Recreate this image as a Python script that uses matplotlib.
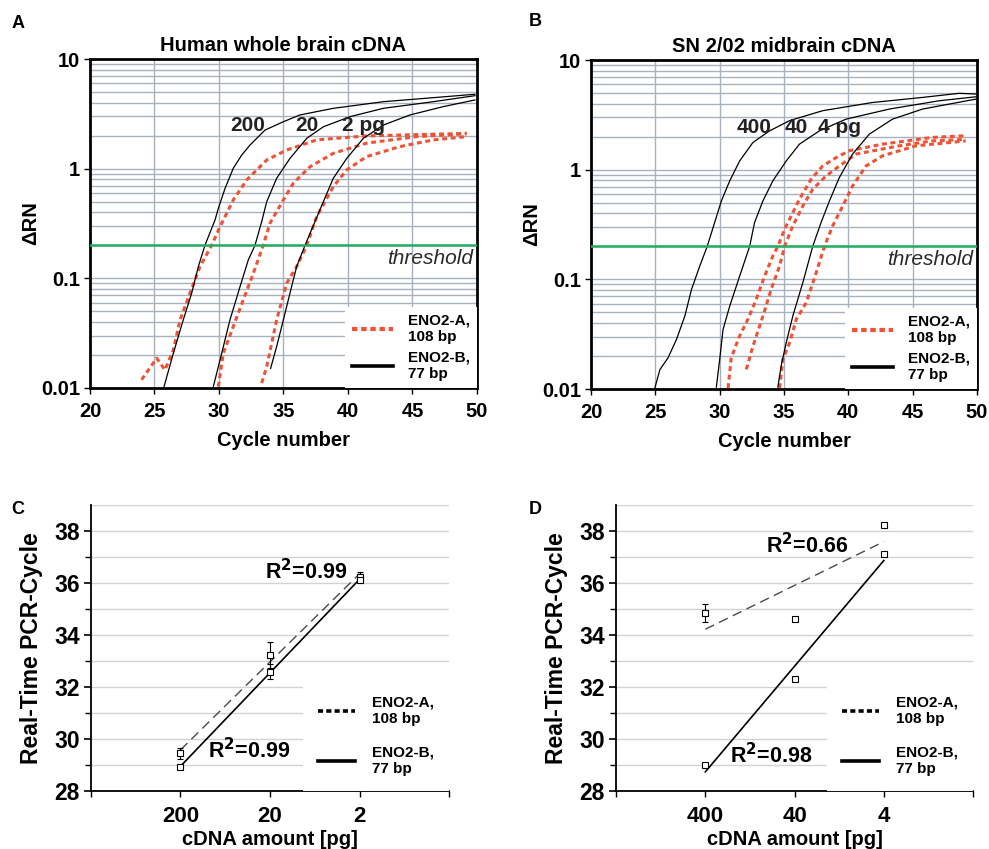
import numpy as np
import matplotlib
matplotlib.use('Agg')
import matplotlib.pyplot as plt
from matplotlib.lines import Line2D
from matplotlib.ticker import FixedLocator, NullFormatter, LogLocator, FuncFormatter

plt.rcParams['font.family'] = ['Liberation Sans', 'DejaVu Sans']
plt.rcParams['font.weight'] = 'bold'
plt.rcParams['axes.labelweight'] = 'bold'
plt.rcParams['axes.titleweight'] = 'bold'

# ---------------- Panel A: Human whole brain cDNA (amplification curves) ----------------
a_b200_x = [25.74, 26.46, 27.23, 27.88, 28.40, 28.91, 29.69, 29.95, 30.47, 31.11, 31.76, 32.40, 33.57, 34.99, 36.28, 38.86, 42.74, 46.61, 49.84]
a_b200_y = [0.0103, 0.0207, 0.0418, 0.0731, 0.128, 0.2, 0.340, 0.435, 0.662, 1.01, 1.33, 1.64, 2.25, 2.68, 3.09, 3.55, 4.08, 4.44, 4.77]
a_b20_x = [29.56, 30.08, 30.85, 31.63, 32.27, 32.79, 33.31, 33.70, 34.47, 35.50, 36.80, 38.09, 40.16, 42.74, 46.61, 49.84]
a_b20_y = [0.0103, 0.018, 0.0418, 0.084, 0.147, 0.2, 0.329, 0.5, 0.817, 1.24, 1.89, 2.41, 2.98, 3.55, 4.08, 4.63]
a_b2_x = [34.00, 34.47, 34.99, 35.50, 36.02, 36.67, 37.44, 38.09, 38.86, 39.90, 41.19, 42.74, 44.81, 47.39, 49.84]
a_b2_y = [0.0151, 0.0239, 0.0418, 0.0731, 0.128, 0.2, 0.329, 0.5, 0.817, 1.24, 1.89, 2.5, 3.09, 3.68, 4.23]
a_r200_x = [24.00, 25.17, 25.81, 26.46, 26.98, 27.75, 28.53, 29.43, 30.08, 31.11, 32.15, 33.70, 35.25, 37.57, 41.45, 49.20]
a_r200_y = [0.0119, 0.0187, 0.0146, 0.0222, 0.0418, 0.0731, 0.128, 0.2, 0.296, 0.519, 0.789, 1.2, 1.48, 1.83, 1.99, 2.10]
a_r20_x = [29.95, 30.33, 31.11, 31.88, 32.66, 33.43, 33.95, 34.99, 35.76, 37.05, 38.86, 41.45, 45.33, 49.20]
a_r20_y = [0.0103, 0.0207, 0.0364, 0.0636, 0.111, 0.2, 0.318, 0.519, 0.736, 1.04, 1.38, 1.71, 1.96, 2.08]
a_r2_x = [33.31, 33.70, 34.47, 35.25, 36.02, 36.80, 37.57, 38.86, 39.90, 41.45, 44.03, 46.61, 49.20]
a_r2_y = [0.0111, 0.0157, 0.0418, 0.0905, 0.128, 0.2, 0.365, 0.686, 0.973, 1.29, 1.59, 1.83, 1.96]
a_amount_labels = ['200', '20', '2 pg']
a_amount_label_x = [32.25, 36.8, 41.2]

# ---------------- Panel B: SN 2/02 midbrain cDNA ----------------
b_b400_x = [24.96, 25.35, 25.99, 26.64, 27.29, 27.81, 28.45, 29.03, 29.61, 30.13, 30.78, 31.55, 32.58, 33.88, 35.43, 38.00, 41.88, 45.76, 48.60, 49.90]
b_b400_y = [0.0102, 0.015, 0.0193, 0.0283, 0.0462, 0.081, 0.132, 0.2, 0.33, 0.519, 0.791, 1.2, 1.77, 2.26, 2.8, 3.45, 4.1, 4.56, 4.97, 4.9]
b_b40_x = [29.74, 30.00, 30.26, 30.78, 31.55, 32.33, 32.71, 33.36, 34.13, 35.17, 36.20, 37.75, 39.82, 43.18, 47.05, 49.90]
b_b40_y = [0.0104, 0.0186, 0.0349, 0.057, 0.107, 0.2, 0.33, 0.519, 0.791, 1.2, 1.71, 2.26, 2.89, 3.57, 4.25, 4.62]
b_b4_x = [34.52, 34.78, 35.17, 35.68, 36.46, 37.23, 37.88, 38.53, 39.30, 40.33, 41.63, 43.43, 45.76, 49.90]
b_b4_y = [0.0104, 0.0163, 0.0264, 0.0462, 0.0933, 0.2, 0.33, 0.519, 0.849, 1.39, 2.11, 2.89, 3.57, 4.4]
b_r400_x = [30.65, 30.90, 31.55, 32.19, 32.84, 33.49, 34.13, 34.52, 35.04, 35.68, 36.20, 37.10, 38.00, 39.05, 40.08, 42.66, 46.53, 49.12]
b_r400_y = [0.0102, 0.0193, 0.0305, 0.0432, 0.0657, 0.107, 0.163, 0.2, 0.286, 0.406, 0.538, 0.818, 1.08, 1.29, 1.49, 1.71, 1.97, 2.04]
b_r40_x = [32.07, 32.58, 33.36, 34.00, 34.65, 35.04, 35.68, 36.46, 37.23, 38.27, 39.30, 40.60, 43.95, 46.53, 49.12]
b_r40_y = [0.0151, 0.0245, 0.0462, 0.0811, 0.132, 0.2, 0.307, 0.467, 0.664, 0.877, 1.08, 1.39, 1.65, 1.83, 1.89]
b_r4_x = [34.65, 34.91, 35.43, 35.95, 36.72, 37.50, 38.14, 38.78, 39.56, 40.33, 41.37, 42.66, 45.25, 49.12]
b_r4_y = [0.0102, 0.0186, 0.0264, 0.0432, 0.0612, 0.115, 0.2, 0.307, 0.467, 0.711, 1.08, 1.34, 1.65, 1.83]
b_amount_labels = ['400', '40', '4 pg']
b_amount_label_x = [32.7, 35.95, 39.3]

threshold_value = 0.2
amp_yticks = [0.01, 0.1, 1, 10]
amp_xticks = [20, 25, 30, 35, 40, 45, 50]

# ---------------- Panels C / D: standard curves ----------------
c_labels = ['200', '20', '2']
c_eno2a = [29.45, 33.23, 36.22]
c_eno2a_err = [0.2, 0.5, 0.2]
c_eno2b = [28.93, 32.59, 36.12]
c_eno2b_err = [0.05, 0.3, 0.1]
c_r2 = ['R$^{\\mathbf{2}}$=0.99', 'R$^{\\mathbf{2}}$=0.99']

d_labels = ['400', '40', '4']
d_eno2a = [34.86, 34.63, 38.23]
d_eno2a_err = [0.35, 0.0, 0.0]
d_eno2b = [28.99, 32.29, 37.12]
d_eno2b_err = [0.0, 0.0, 0.0]
d_r2 = ['R$^{\\mathbf{2}}$=0.66', 'R$^{\\mathbf{2}}$=0.98']

legend_labels = ['ENO2-A,\n108 bp', 'ENO2-B,\n77 bp']

RED = '#ef5234'
GREEN = '#22ad62'
GRID = '#a8b2bf'

fig = plt.figure(figsize=(9.89, 8.49), dpi=100)
axA = fig.add_axes([0.0910, 0.5430, 0.3913, 0.3875])
axB = fig.add_axes([0.5976, 0.5418, 0.3903, 0.3875])
axC = fig.add_axes([0.0920, 0.0683, 0.3620, 0.3369])
axD = fig.add_axes([0.6229, 0.0683, 0.3610, 0.3369])


def amp_panel(ax, title, blacks, reds, amt_labels, amt_x):
    ax.set_yscale('log')
    ax.set_xlim(20, 50)
    ax.set_ylim(0.01, 10)
    ax.yaxis.set_major_locator(FixedLocator(amp_yticks))
    ax.yaxis.set_minor_locator(LogLocator(base=10, subs=np.arange(2, 10)))
    ax.yaxis.set_minor_formatter(NullFormatter())
    ax.yaxis.set_major_formatter(FuncFormatter(lambda v, p: '%g' % v))
    ax.set_xticks(amp_xticks)
    ax.grid(True, which='both', axis='y', color=GRID, lw=1.0, zorder=0)
    ax.grid(True, which='major', axis='x', color=GRID, lw=1.0, zorder=0)
    ax.set_axisbelow(True)
    ax.tick_params(which='minor', length=0)
    ax.tick_params(axis='y', which='major', length=4, width=1, labelsize=14.5, pad=3)
    ax.tick_params(axis='x', which='major', length=4, width=1, labelsize=14.5, pad=6)
    for s in ax.spines.values():
        s.set_linewidth(2.0)
        s.set_color('black')
    for x, y in reds:
        ax.plot(x, y, color=RED, lw=2.2, ls=(0, (1.6, 1.2)), zorder=3)
    for x, y in blacks:
        ax.plot(x, y, color='black', lw=0.9, zorder=4)
    ax.axhline(threshold_value, color=GREEN, lw=1.8, zorder=5)
    ax.text(49.7, 0.152, 'threshold', style='italic', weight='normal', ha='right', va='center',
            fontsize=15, color='#2a2a2a', zorder=6)
    for lab, x in zip(amt_labels, amt_x):
        ax.text(x, 2.45, lab, ha='center', va='center', fontsize=15, weight='bold', color='#222222', zorder=6)
    ax.set_title(title, fontsize=14.5, pad=6)
    ax.set_xlabel('Cycle number', fontsize=14.5, labelpad=7)
    ax.set_ylabel('\u0394RN', fontsize=14.5, labelpad=1)
    h1 = Line2D([], [], color=RED, lw=3, ls=(0, (1.3, 0.9)))
    h2 = Line2D([], [], color='black', lw=2.6)
    leg = ax.legend([h1, h2], legend_labels, loc='lower right', bbox_to_anchor=(1, 0), borderaxespad=0,
                    frameon=True, fancybox=False, edgecolor='none', facecolor='white', framealpha=1,
                    fontsize=11, handlelength=2.7, handletextpad=1.0, labelspacing=0.45, borderpad=0.45)
    leg.set_zorder(7)


amp_panel(axA, 'Human whole brain cDNA',
          [(a_b200_x, a_b200_y), (a_b20_x, a_b20_y), (a_b2_x, a_b2_y)],
          [(a_r200_x, a_r200_y), (a_r20_x, a_r20_y), (a_r2_x, a_r2_y)],
          a_amount_labels, a_amount_label_x)
amp_panel(axB, 'SN 2/02 midbrain cDNA',
          [(b_b400_x, b_b400_y), (b_b40_x, b_b40_y), (b_b4_x, b_b4_y)],
          [(b_r400_x, b_r400_y), (b_r40_x, b_r40_y), (b_r4_x, b_r4_y)],
          b_amount_labels, b_amount_label_x)


def cal_panel(ax, labels, a, aerr, b, berr, r2, r2a_pos, r2b_pos):
    pos = np.arange(1, len(labels) + 1)
    ax.set_xlim(0, 4)
    ax.set_ylim(28, 39)
    for yv in np.arange(29, 40):
        ax.axhline(yv, color='#d2d2d2', lw=1.0, zorder=0)
    ax.spines['top'].set_visible(False)
    ax.spines['right'].set_visible(False)
    for s in ['left', 'bottom']:
        ax.spines[s].set_linewidth(1.3)
    ax.set_yticks(np.arange(28, 39, 2))
    ax.set_yticks(np.arange(29, 39, 2), minor=True)
    ax.set_xticks(pos)
    ax.set_xticklabels(labels)
    ax.set_xticks([0, 4], minor=True)
    ax.tick_params(axis='y', which='major', length=5, width=1.2, labelsize=16.5, pad=3)
    ax.tick_params(axis='y', which='minor', length=4, width=1.0)
    ax.tick_params(axis='x', which='both', length=4, width=1.0, labelsize=16, pad=7)
    # linear fits (log-spaced amounts at equal spacing)
    fa = np.polyfit(pos, a, 1)
    fb = np.polyfit(pos, b, 1)
    xs = np.array([pos[0], pos[-1]])
    ax.plot(xs, np.polyval(fa, xs), color='#4a4a4a', lw=1.0, ls=(0, (7, 4)), zorder=3)
    ax.plot(xs, np.polyval(fb, xs), color='black', lw=1.2, zorder=3)
    ax.errorbar(pos, a, yerr=aerr, fmt='s', ms=4, mfc='white', mec='black', mew=0.8,
                ecolor='black', elinewidth=0.8, capsize=2.5, capthick=0.8, zorder=4)
    ax.errorbar(pos, b, yerr=berr, fmt='s', ms=4, mfc='white', mec='black', mew=0.8,
                ecolor='black', elinewidth=0.8, capsize=2.5, capthick=0.8, zorder=4)
    ax.text(r2a_pos[0], r2a_pos[1], r2[0], ha='right', va='center', fontsize=15.5, zorder=6)
    ax.text(r2b_pos[0], r2b_pos[1], r2[1], ha='left', va='center', fontsize=15.5, zorder=6)
    ax.set_xlabel('cDNA amount [pg]', fontsize=14.5, labelpad=2)
    ax.set_ylabel('Real-Time PCR-Cycle', fontsize=16.5, labelpad=8)
    h1 = Line2D([], [], color='black', lw=2.6, ls=(0, (1.4, 0.9)))
    h2 = Line2D([], [], color='black', lw=2.6)
    leg = ax.legend([h1, h2], legend_labels, loc='lower right', bbox_to_anchor=(1, 0), borderaxespad=0,
                    frameon=True, fancybox=False, edgecolor='none', facecolor='white', framealpha=1,
                    fontsize=11, handlelength=2.4, handletextpad=1.1, labelspacing=1.3, borderpad=1.0)
    leg.set_zorder(7)


cal_panel(axC, c_labels, c_eno2a, c_eno2a_err, c_eno2b, c_eno2b_err, c_r2, (2.87, 36.45), (1.31, 29.55))
cal_panel(axD, d_labels, d_eno2a, d_eno2a_err, d_eno2b, d_eno2b_err, d_r2, (2.6, 37.42), (1.28, 29.35))

for lab, (x, y) in zip(['A', 'B', 'C', 'D'], [(18, 23), (535, 22), (18, 510), (535, 510)]):
    fig.text(x / 989, 1 - y / 849, lab, fontsize=13, weight='bold', ha='center', va='center')

fig.savefig('out.png', dpi=100)
